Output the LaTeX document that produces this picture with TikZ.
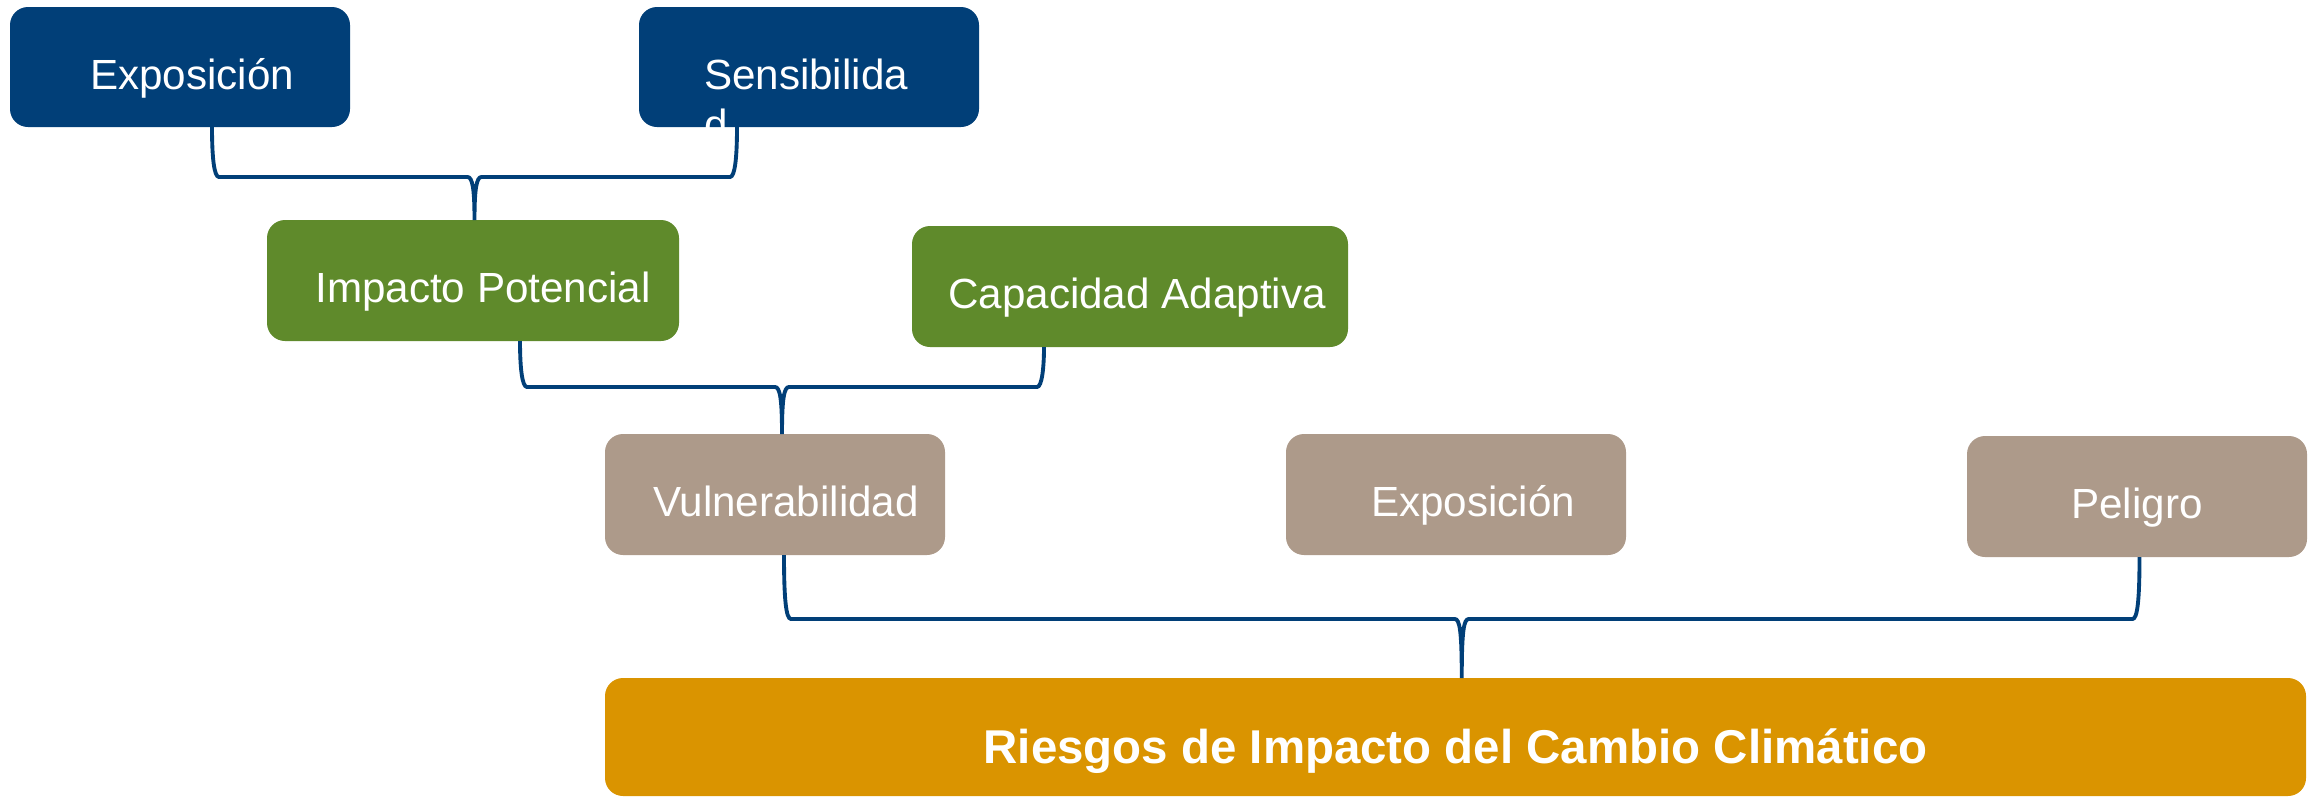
\documentclass[tikz,border=0pt]{standalone}
\usepackage{fontspec}
\setmainfont{Liberation Sans}
\usetikzlibrary{calc}
\usetikzlibrary{positioning}
\definecolor{riskblue}{HTML}{013F78}
\definecolor{riskgreen}{HTML}{5F8A2B}
\definecolor{risktaupe}{HTML}{AD9A8A}
\definecolor{riskorange}{HTML}{DA9400}
\tikzstyle{box}=[rectangle, rounded corners=0.18cm, text=white, inner sep=0pt, outer sep=0pt,
		minimum width=3.4cm, minimum height=1.2cm,
		font=\fontsize{12}{14.4}\selectfont, text height=12.6pt, text depth=0pt]
\tikzstyle{topbox}=[box, fill=riskblue]
\tikzstyle{midbox}=[box, fill=riskgreen, minimum width=4.12cm, minimum height=1.21cm]
\tikzstyle{lowbox}=[box, fill=risktaupe, minimum height=1.21cm]
\tikzstyle{riskbox}=[box, fill=riskorange, minimum width=17.01cm, minimum height=1.18cm,
		font=\bfseries\fontsize{13.5}{16}\selectfont, text height=15.3pt]
\tikzstyle{link}=[-, draw=riskblue, line width=1.1pt]
\tikzset{nudge/.style={execute at begin node={\hspace*{#1}}}}
% curly connector: left arm, right arm, tip, point of the bar above the tip
\newcommand{\curlylink}[4]{%
  \draw[link] (#1) .. controls ($(#1 |- #4)+(0,0.2)$) and ($(#1 |- #4)+(0.02,0)$) .. ($(#1 |- #4)+(0.07,0)$)
    -- ($(#4)+(-0.07,0)$) .. controls ($(#4)+(-0.02,0)$) and ($(#4)+(0,-0.12)$) .. (#3)
    .. controls ($(#4)+(0,-0.12)$) and ($(#4)+(0.02,0)$) .. ($(#4)+(0.07,0)$)
    -- ($(#2 |- #4)+(-0.07,0)$) .. controls ($(#2 |- #4)+(-0.02,0)$) and ($(#2 |- #4)+(0,0.2)$) .. (#2);}

\begin{document}
\begin{tikzpicture}[node distance=2cm,thick]
    \useasboundingbox (0,0) rectangle (23.15,-7.96);

    \node (Expo) at (1.80,-0.67) [topbox, nudge=2.4mm] {Exposición};
    \node (Sens) [topbox, right=2.89cm of Expo] {\parbox[t]{2.1cm}{Sensibilida\\d}};

    \node (Imp) at (4.73,-2.805) [midbox, nudge=2mm] {Impacto Potencial};
    \node (Cap) [midbox, nudge=1.4mm, minimum width=4.36cm, right=2.33cm of Imp, yshift=-0.6mm]
        {Capacidad Adaptiva};

    \node (Vul) at (7.75,-4.945) [lowbox, nudge=2.2mm] {Vulnerabilidad};
    \node (Expo2) [lowbox, nudge=3.4mm, right=3.41cm of Vul] {Exposición};
    \node (Pel) [lowbox, right=3.41cm of Expo2, yshift=-0.2mm] {Peligro};

    \node (Risk) at (14.555,-7.37) [riskbox] {Riesgos de Impacto del Cambio Climático};

    % Exposicion + Sensibilidad -> Impacto Potencial
    \coordinate (e1) at ([xshift=3.2mm]Expo.south);
    \coordinate (s1) at ([xshift=-7.2mm]Sens.south);
    \path (e1) -- (s1) coordinate[pos=0.5] (m1);
    \coordinate (t1) at (m1 |- Imp.north);
    \coordinate (c1) at ($(t1)+(0,0.43)$);
    \curlylink{e1}{s1}{t1}{c1}

    % Impacto Potencial + Capacidad Adaptiva -> Vulnerabilidad
    \coordinate (e2) at ([xshift=4.7mm]Imp.south);
    \coordinate (s2) at ([xshift=-8.6mm]Cap.south);
    \path (e2) -- (s2) coordinate[pos=0.5] (m2);
    \coordinate (t2) at (m2 |- Vul.north);
    \coordinate (c2) at ($(t2)+(0,0.47)$);
    \curlylink{e2}{s2}{t2}{c2}

    % Vulnerabilidad + Peligro -> Riesgos
    \coordinate (e3) at ([xshift=0.9mm]Vul.south);
    \coordinate (s3) at ([xshift=0.25mm]Pel.south);
    \path (e3) -- (s3) coordinate[pos=0.5] (m3);
    \coordinate (t3) at (m3 |- Risk.north);
    \coordinate (c3) at ($(t3)+(0,0.59)$);
    \curlylink{e3}{s3}{t3}{c3}

\end{tikzpicture}
\end{document}
